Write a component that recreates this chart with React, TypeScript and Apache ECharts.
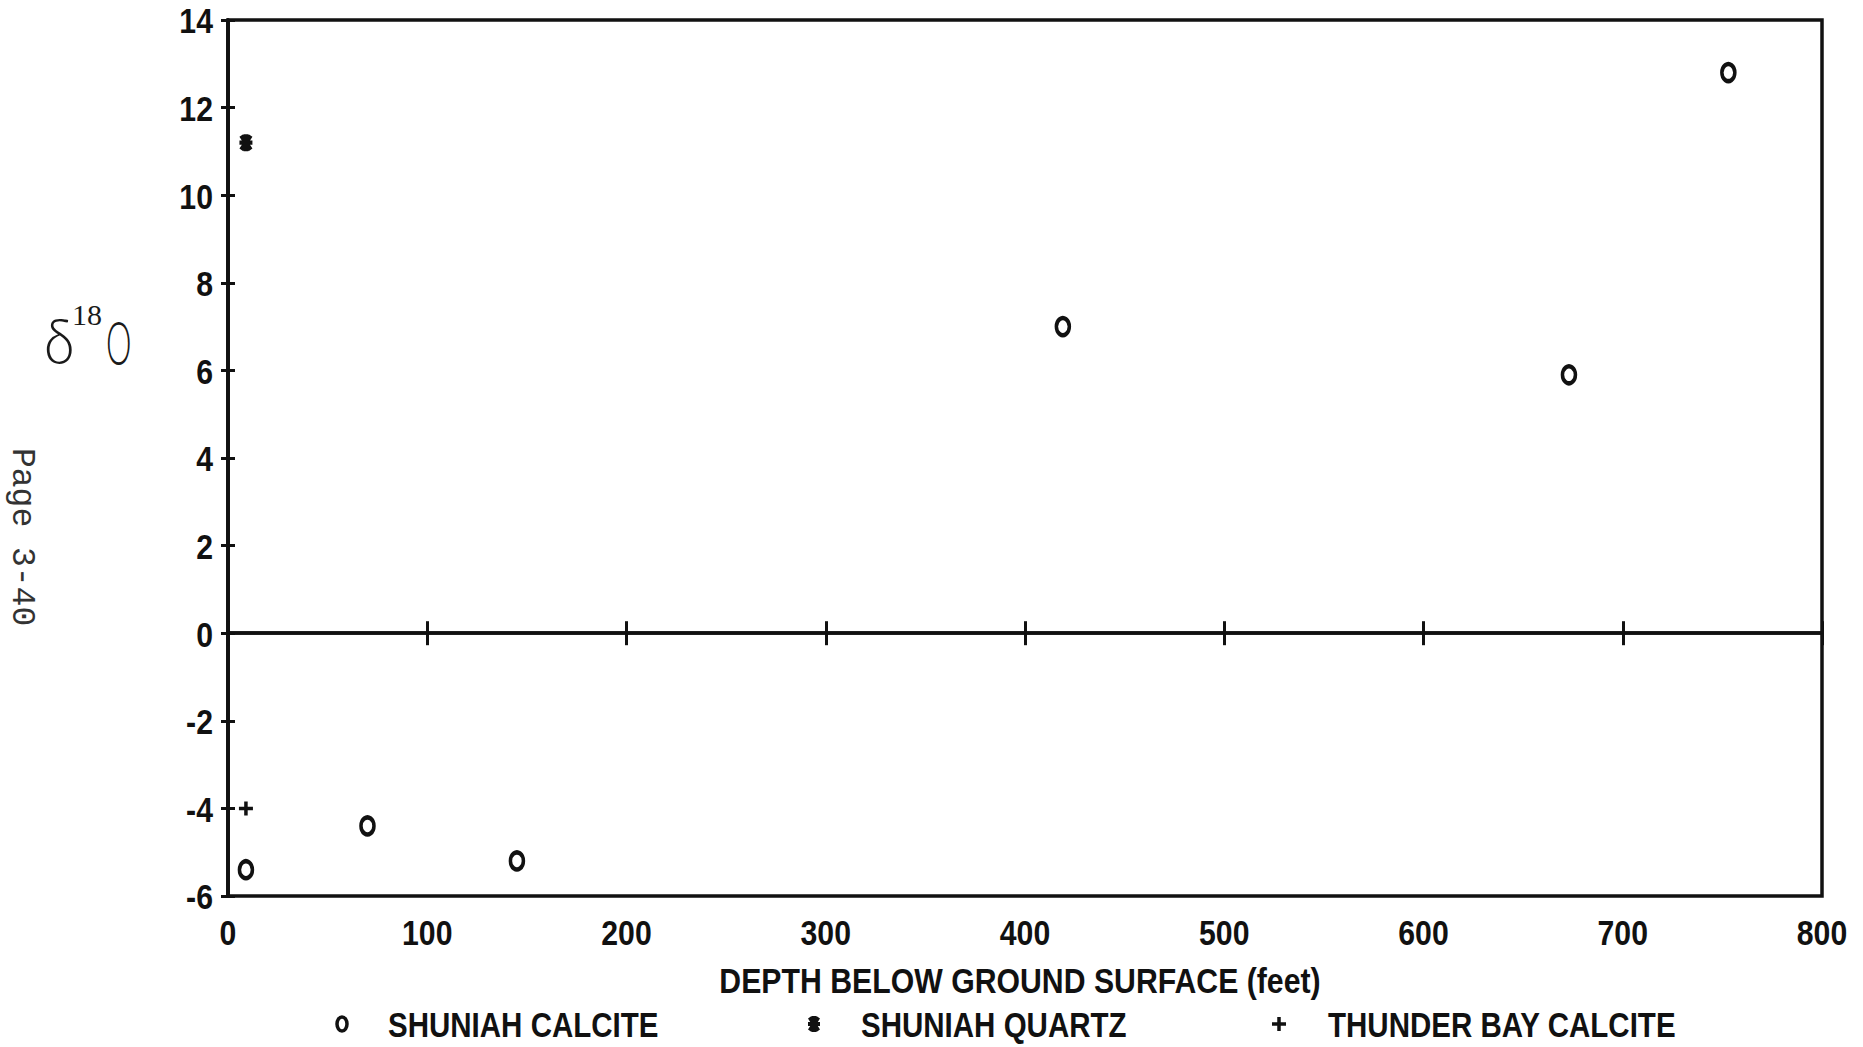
import React, { useEffect, useRef } from "react";
import * as echarts from "echarts";

// Depth below ground surface (feet) and delta-18O values for each mineral group
const calciteDepth = [9, 70, 145, 419, 673, 753];
const calciteD18O = [-5.4, -4.4, -5.2, 7.0, 5.9, 12.8];
const quartzDepth = [9];
const quartzD18O = [11.2];
const thunderBayDepth = [9];
const thunderBayD18O = [-4.0];

// Axis ticks
const xTicks = [0, 100, 200, 300, 400, 500, 600, 700, 800];
const yTicks = [-6, -4, -2, 0, 2, 4, 6, 8, 10, 12, 14];

const seriesNames = ["SHUNIAH CALCITE", "SHUNIAH QUARTZ", "THUNDER BAY CALCITE"];
const xTitle = "DEPTH BELOW GROUND SURFACE (feet)";
const pageNote = "Page 3-40";

const X_MIN = 0;
const X_MAX = 800;
const Y_MIN = -6;
const Y_MAX = 14;

const INK = "#111";
const BOLD_FONT = "bold 36px 'Liberation Sans', Arial, sans-serif";
const CONDENSE = 0.84;

// Heavy asterisk (plus laid over an X) and a bold plus sign
const STAR_D =
  "M4,0H8V16H4Z M0,6H12V10H0Z M0,2.5L3.5,0L12,13.5L8.5,16Z M8.5,0L12,2.5L3.5,16L0,13.5Z";
const PLUS_D = "M4.5,0H7.5V4.5H12V7.5H7.5V12H4.5V7.5H0V4.5H4.5Z";

echarts.graphic.registerShape("quartzStar", echarts.graphic.extendPath(STAR_D, {}));
echarts.graphic.registerShape("boldPlus", echarts.graphic.extendPath(PLUS_D, {}));

const zip = (xs: number[], ys: number[]) => xs.map((x, i) => [x, ys[i]]);

export default function App() {
  const ref = useRef<HTMLDivElement>(null);

  useEffect(() => {
    if (!ref.current) return;
    const chart = echarts.init(ref.current, undefined, { renderer: "svg" });

    const zeroAxis = (inside: boolean) => ({
      type: "value" as const,
      min: X_MIN,
      max: X_MAX,
      interval: 100,
      position: "bottom" as const,
      axisLine: { show: true, onZero: true, lineStyle: { color: INK, width: 3.5 } },
      axisTick: { show: true, inside, length: 12, lineStyle: { color: INK, width: 3 } },
      axisLabel: { show: false },
      splitLine: { show: false },
    });

    const yAxisBase = (inside: boolean) => ({
      type: "value" as const,
      min: Y_MIN,
      max: Y_MAX,
      interval: 2,
      position: "left" as const,
      axisLine: { show: true, onZero: false, lineStyle: { color: INK, width: 3.5 } },
      axisTick: { show: true, inside, length: 7, lineStyle: { color: INK, width: 3 } },
      axisLabel: { show: false },
      splitLine: { show: false },
    });

    // Narrowed bold tick labels, placed through the axes' own scales
    const xLabelSeries = {
      type: "custom" as const,
      silent: true,
      clip: false,
      data: xTicks.map((v) => [v, Y_MIN]),
      renderItem: (_p: any, api: any) => {
        const pt = api.coord([api.value(0), api.value(1)]);
        return {
          type: "text",
          x: pt[0],
          y: pt[1] + 37,
          scaleX: CONDENSE,
          style: {
            text: String(api.value(0)),
            font: BOLD_FONT,
            fill: INK,
            align: "center",
            verticalAlign: "middle",
          },
        };
      },
    };

    const yLabelSeries = {
      type: "custom" as const,
      silent: true,
      clip: false,
      data: yTicks.map((v) => [X_MIN, v]),
      renderItem: (_p: any, api: any) => {
        const pt = api.coord([api.value(0), api.value(1)]);
        return {
          type: "text",
          x: pt[0] - 15,
          y: pt[1] + 1,
          scaleX: CONDENSE,
          style: {
            text: String(api.value(1)),
            font: BOLD_FONT,
            fill: INK,
            align: "right",
            verticalAlign: "middle",
          },
        };
      },
    };

    const legendY = 1024;
    const legendItems = [
      { iconX: 342, textX: 388 },
      { iconX: 814, textX: 861 },
      { iconX: 1279, textX: 1328 },
    ];

    chart.setOption({
      animation: false,
      backgroundColor: "#fff",
      grid: {
        left: 228,
        right: 41,
        top: 20,
        bottom: 151,
        show: true,
        borderColor: INK,
        borderWidth: 3.5,
        backgroundColor: "transparent",
      },
      xAxis: [zeroAxis(false), zeroAxis(true)],
      yAxis: [yAxisBase(false), yAxisBase(true)],
      series: [
        {
          name: seriesNames[0],
          type: "scatter",
          symbol: "circle",
          symbolSize: [13, 17],
          itemStyle: { color: "#fff", borderColor: INK, borderWidth: 4, opacity: 1 },
          data: zip(calciteDepth, calciteD18O),
        },
        {
          name: seriesNames[1],
          type: "scatter",
          symbol: "path://" + STAR_D,
          symbolSize: [13, 17],
          itemStyle: { color: INK, opacity: 1 },
          data: zip(quartzDepth, quartzD18O),
        },
        {
          name: seriesNames[2],
          type: "scatter",
          symbol: "path://" + PLUS_D,
          symbolSize: [14, 14],
          itemStyle: { color: INK, opacity: 1 },
          data: zip(thunderBayDepth, thunderBayD18O),
        },
        xLabelSeries,
        yLabelSeries,
      ],
      graphic: [
        // axis title
        {
          type: "text",
          x: 1020,
          y: 981,
          scaleX: CONDENSE,
          style: {
            text: xTitle,
            font: BOLD_FONT,
            fill: INK,
            align: "center",
            verticalAlign: "middle",
          },
        },
        // legend symbols
        {
          type: "ellipse",
          shape: { cx: legendItems[0].iconX, cy: legendY, rx: 5, ry: 7 },
          style: { fill: "#fff", stroke: INK, lineWidth: 3.5 },
        },
        {
          type: "quartzStar",
          x: legendItems[1].iconX - 6,
          y: legendY - 8,
          style: { fill: INK },
        },
        {
          type: "boldPlus",
          x: legendItems[2].iconX - 7,
          y: legendY - 7,
          scaleX: 14 / 12,
          scaleY: 14 / 12,
          style: { fill: INK },
        },
        // legend texts
        ...seriesNames.map((name, i) => ({
          type: "text",
          x: legendItems[i].textX,
          y: legendY,
          scaleX: 0.82,
          style: {
            text: name,
            font: BOLD_FONT,
            fill: INK,
            align: "left",
            verticalAlign: "middle",
          },
        })),
        // y-axis name: delta 18 O
        {
          type: "text",
          x: 44,
          y: 340,
          scaleX: 0.88,
          style: {
            text: "δ",
            fill: "#1a1a1a",
            font: "300 64px Lato, 'DejaVu Sans', sans-serif",
            align: "left",
            verticalAlign: "middle",
          },
        },
        {
          type: "text",
          x: 72,
          y: 314,
          style: {
            text: "18",
            fill: "#1a1a1a",
            font: "30px 'Liberation Serif', serif",
            align: "left",
            verticalAlign: "middle",
          },
        },
        {
          type: "text",
          x: 106,
          y: 341,
          scaleX: 0.52,
          style: {
            text: "O",
            fill: "#1a1a1a",
            font: "300 62px Lato, 'DejaVu Sans', sans-serif",
            align: "left",
            verticalAlign: "middle",
          },
        },
        // page note along the left margin
        {
          type: "text",
          x: 38,
          y: 448,
          rotation: -Math.PI / 2,
          style: {
            text: pageNote,
            fill: "#333",
            font: "33px 'Liberation Mono', 'DejaVu Sans Mono', monospace",
            align: "left",
            verticalAlign: "top",
          },
        },
      ],
    });

    return () => chart.dispose();
  }, []);

  return (
    <div
      ref={ref}
      style={{ position: "fixed", left: 0, top: 0, width: 1863, height: 1047, background: "#fff" }}
    />
  );
}
